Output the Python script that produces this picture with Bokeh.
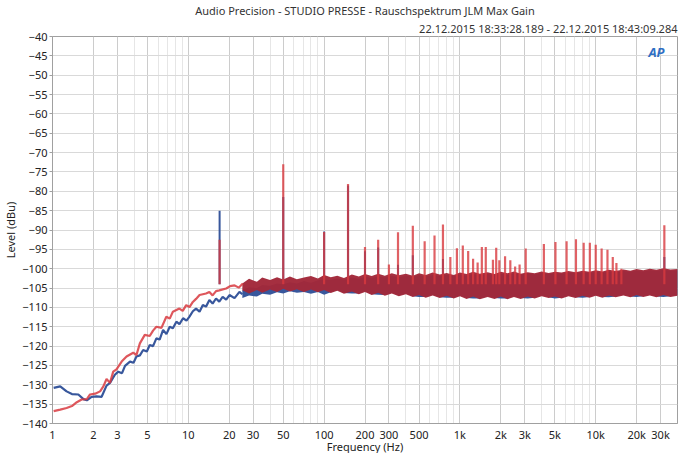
from bokeh.plotting import figure
from bokeh.models import FixedTicker, Range1d, Title, Label
from bokeh.embed import file_html
from bokeh.resources import INLINE

# ---------------- data ----------------
title_main = "Audio Precision - STUDIO PRESSE - Rauschspektrum JLM Max Gain"
title_date = "22.12.2015 18:33:28.189 - 22.12.2015 18:43:09.284"

x_ticks = [1, 2, 3, 5, 10, 20, 30, 50, 100, 200, 300, 500, 1000, 2000, 3000, 5000, 10000, 20000, 30000]
x_tick_labels = ["1", "2", "3", "5", "10", "20", "30", "50", "100", "200", "300", "500",
                 "1k", "2k", "3k", "5k", "10k", "20k", "30k"]
x_minor = [4, 6, 7, 8, 9, 40, 60, 70, 80, 90, 400, 600, 700, 800, 900,
           4000, 6000, 7000, 8000, 9000, 40000]
y_ticks = list(range(-140, -35, 5))

# low-frequency traces (Hz, dBu)
blue_f = [1.02, 1.14, 1.27, 1.39, 1.55, 1.69, 1.79, 1.94, 2.11, 2.30, 2.50, 2.65, 2.88, 3.05,
          3.25, 3.42, 3.72, 3.95, 4.15, 4.40, 4.65, 4.95, 5.2, 5.5, 5.82, 6.15, 6.52, 6.9, 7.3,
          7.7, 8.17, 8.6, 9.15, 9.7, 10.2, 10.8, 11.4, 12.1, 12.8, 13.5, 14.3, 15.1, 16.0,
          16.9, 17.9, 19.0, 20.1, 21.9, 23.8, 25.0]
blue_v = [-130.8, -130.4, -131.7, -132.4, -132.5, -133.7, -134.0, -133.1, -133.0, -133.1,
          -130.2, -129.5, -127.4, -126.6, -127.0, -125.1, -124.0, -124.3, -122.7, -122.4,
          -121.0, -121.4, -119.7, -120.0, -118.0, -118.3, -115.8, -116.9, -115.0, -115.4,
          -113.7, -114.3, -112.8, -113.4, -112.4, -111.0, -110.3, -111.1, -109.4, -109.8,
          -108.1, -109.0, -107.7, -108.5, -107.3, -108.0, -106.8, -107.6, -106.0, -106.6]

red_f = [1.02, 1.14, 1.27, 1.39, 1.51, 1.64, 1.79, 1.89, 2.06, 2.24, 2.37, 2.50, 2.65, 2.80,
         2.96, 3.23, 3.51, 3.93, 4.15, 4.40, 4.78, 5.2, 5.5, 5.82, 6.34, 6.89, 7.3, 7.7, 8.6,
         9.1, 9.65, 10.2, 10.8, 11.4, 12.1, 13.5, 14.3, 15.1, 16.0, 16.9, 19.0, 20.3, 21.9,
         23.5, 25.2]
red_v = [-136.8, -136.4, -136.0, -135.5, -134.5, -133.8, -133.7, -132.5, -132.3, -131.7,
         -130.4, -128.5, -129.5, -126.6, -126.0, -124.0, -122.7, -121.7, -122.3, -119.3,
         -117.1, -117.4, -116.0, -115.0, -115.3, -112.4, -112.9, -111.1, -110.3, -110.9,
         -109.4, -109.9, -108.6, -107.8, -106.8, -106.4, -106.0, -106.9, -105.8, -105.6,
         -105.1, -104.5, -104.3, -104.9, -103.8]

# noise floor envelopes (Hz, dBu)
band_f = [25, 28, 32, 35, 40, 45, 50, 56, 63, 71, 80, 90, 100, 112, 125, 140, 160, 180, 200,
          224, 250, 280, 315, 355, 400, 450, 500, 560, 630, 710, 800, 900, 1000, 1120, 1250,
          1400, 1600, 1800, 2000, 2240, 2500, 2800, 3150, 3550, 4000, 4500, 5000, 5600, 6300,
          7100, 8000, 9000, 10000, 11200, 12500, 14000, 16000, 18000, 20000, 22400, 25000,
          28000, 31500, 35500, 40000]
red_hi = [-103.8, -102.6, -103.4, -102.3, -102.9, -102.2, -102.8, -102.0, -102.7, -102.3,
          -101.9, -102.5, -101.6, -102.2, -101.8, -102.4, -101.5, -102.0, -101.4, -101.9,
          -101.3, -101.8, -101.2, -101.7, -101.3, -101.8, -101.2, -101.6, -101.0, -101.5,
          -101.1, -101.6, -101.0, -101.4, -100.8, -101.3, -100.9, -101.4, -100.8, -101.2,
          -100.7, -101.3, -100.9, -101.2, -100.7, -101.1, -100.8, -101.0, -100.6, -100.9,
          -100.5, -100.8, -100.4, -100.7, -100.3, -100.6, -100.2, -100.5, -100.1, -100.4,
          -100.0, -100.3, -99.9, -100.2, -100.1]
red_lo = [-105.6, -106.4, -105.5, -106.2, -105.4, -106.0, -105.2, -105.9, -105.3, -106.0,
          -105.4, -106.1, -105.5, -106.3, -105.7, -106.5, -105.9, -106.6, -106.0, -106.8,
          -106.2, -107.0, -106.4, -107.1, -106.6, -107.3, -106.8, -107.5, -106.9, -107.6,
          -107.0, -107.7, -107.1, -107.8, -107.2, -107.9, -107.3, -107.8, -107.2, -107.9,
          -107.3, -107.8, -107.2, -107.7, -107.1, -107.6, -107.2, -107.7, -107.1, -107.6,
          -107.0, -107.5, -107.0, -107.5, -106.9, -107.4, -106.9, -107.4, -106.8, -107.3,
          -106.9, -107.4, -106.8, -107.3, -107.0]
blue_hi = [-105.5, -104.8, -105.0, -104.2, -104.4, -103.8, -104.0, -103.5, -103.8, -103.2,
           -103.6, -103.0, -102.8, -102.9, -102.5, -102.8, -102.3, -102.6, -102.1, -102.4,
           -102.0, -102.3, -101.9, -102.2, -101.8, -102.1, -101.7, -102.0, -101.6, -101.9,
           -101.6, -101.9, -101.5, -101.8, -101.4, -101.7, -101.4, -101.7, -101.3, -101.6,
           -101.2, -101.5, -101.2, -101.5, -101.1, -101.4, -101.1, -101.3, -101.0, -101.2,
           -100.9, -101.1, -100.8, -101.0, -100.7, -100.9, -100.6, -100.8, -100.5, -100.7,
           -100.4, -100.6, -100.3, -100.5, -100.4]
blue_lo = [-107.6, -106.9, -107.2, -106.5, -106.7, -106.1, -106.4, -105.8, -106.2, -106.0,
           -106.5, -106.0, -106.7, -106.1, -105.5, -106.3, -106.4, -106.4, -105.8, -106.6,
           -106.7, -106.8, -106.2, -106.9, -106.4, -107.1, -107.3, -107.3, -106.7, -107.4,
           -107.5, -107.5, -106.9, -107.6, -107.7, -107.7, -107.1, -107.6, -107.7, -107.7,
           -107.1, -107.6, -107.7, -107.5, -106.9, -107.4, -107.7, -107.5, -106.9, -107.4,
           -107.5, -107.3, -106.8, -107.3, -107.4, -107.2, -106.7, -107.2, -107.3, -107.1,
           -106.7, -107.2, -107.3, -107.1, -106.8]

# tonal spikes (Hz, peak dBu)
red_spike_f = [17, 50, 100, 150, 200, 250, 300, 350, 450, 550, 650, 750, 850, 950, 1050, 1150,
               1250, 1350, 1450, 1550, 1750, 1850, 1950, 2150, 2350, 2550, 2750, 3050, 4150,
               5050, 6100, 7150, 8150, 9050, 10000, 11050, 12200, 13350, 14200, 15450, 32000]
red_spike_v = [-92.5, -73.0, -90.5, -78.1, -94.4, -92.5, -98.9, -90.6, -88.9, -92.9, -91.4,
               -88.6, -97.0, -94.7, -94.0, -95.4, -97.4, -98.4, -94.4, -94.4, -97.7, -94.6,
               -97.8, -96.8, -97.8, -99.4, -98.9, -94.8, -93.6, -93.1, -92.9, -92.4, -93.3,
               -93.3, -93.8, -94.8, -95.1, -97.0, -98.5, -100.0, -88.8]
blue_spike_f = [17, 50, 100, 150, 200, 250, 350, 450, 750, 32000]
blue_spike_v = [-85.0, -81.5, -90.4, -78.5, -95.5, -94.5, -99.0, -96.5, -97.5, -97.0]
spike_base = -104.0

# ---------------- figure ----------------
FONT = "Noto Sans"
p = figure(frame_width=625, frame_height=387, x_axis_type="log",
           x_range=Range1d(1, 40000), y_range=Range1d(-140, -40),
           output_backend="svg", toolbar_location=None, title=None,
           min_border_left=0, min_border_right=11, min_border_top=0, min_border_bottom=0,
           background_fill_color="white", border_fill_color="white")

p.add_layout(Title(text=title_date, align="right", text_font=FONT, text_font_size="11px",
                   text_font_style="normal", text_color="#333333", standoff=2, offset=0), "above")
p.add_layout(Title(text=title_main, align="center", text_font=FONT, text_font_size="11px",
                   text_font_style="normal", text_color="#333333", standoff=0, offset=0), "above")

BLUE = "#38579c"
RED = "#d8393f"
BAND_RED = "#a2283a"

# blue series
p.varea(x=band_f, y1=blue_lo, y2=blue_hi, fill_color=BLUE, fill_alpha=1.0)
p.line(blue_f, blue_v, line_color=BLUE, line_width=2.2)
p.segment(x0=blue_spike_f, x1=blue_spike_f, y0=[spike_base] * len(blue_spike_f), y1=blue_spike_v,
          line_color=BLUE, line_width=2)

# red series
p.varea(x=band_f, y1=red_lo, y2=red_hi, fill_color=BAND_RED, fill_alpha=0.97)
p.line(red_f, red_v, line_color=RED, line_width=2.2, line_alpha=0.85)
p.segment(x0=red_spike_f, x1=red_spike_f, y0=[spike_base] * len(red_spike_f), y1=red_spike_v,
          line_color=RED, line_width=2.2, line_alpha=0.8)

# logo
p.add_layout(Label(x=28000, y=-44, text="AP", text_font=FONT, text_font_size="13px",
                   text_font_style="bold italic", text_color="#2f6fc4",
                   text_align="center", text_baseline="middle"))

# axes
xt = FixedTicker(ticks=x_ticks, minor_ticks=x_minor)
p.xaxis.ticker = xt
p.xaxis.major_label_overrides = {t: l for t, l in zip(x_ticks, x_tick_labels)}
p.yaxis.ticker = FixedTicker(ticks=y_ticks)

for ax in (p.xaxis, p.yaxis):
    ax.axis_line_color = "#a0a0a0"
    ax.major_tick_line_color = "#a0a0a0"
    ax.minor_tick_line_color = None
    ax.minor_tick_out = 0
    ax.minor_tick_in = 0
    ax.major_label_text_font = FONT
    ax.major_label_text_font_size = "11px"
    ax.major_label_text_color = "#222222"
    ax.axis_label_text_font = FONT
    ax.axis_label_text_font_size = "11px"
    ax.axis_label_text_font_style = "normal"
    ax.axis_label_text_color = "#222222"

p.xaxis.major_tick_out = 0
p.xaxis.major_tick_in = 0
p.xaxis.major_label_standoff = 3
p.xaxis.axis_label = "Frequency (Hz)"
p.xaxis.axis_label_standoff = -6

p.yaxis.major_tick_out = 3
p.yaxis.major_tick_in = 0
p.yaxis.major_label_standoff = 2
p.yaxis.axis_label = "Level (dBu)"
p.yaxis.axis_label_standoff = 1

p.xgrid.ticker = xt
p.xgrid.grid_line_color = "#cccccc"
p.xgrid.minor_grid_line_color = "#e6e6e6"
p.ygrid.grid_line_color = "#d9d9d9"
p.outline_line_color = "#a0a0a0"

open("out.html", "w").write(file_html(p, INLINE))
